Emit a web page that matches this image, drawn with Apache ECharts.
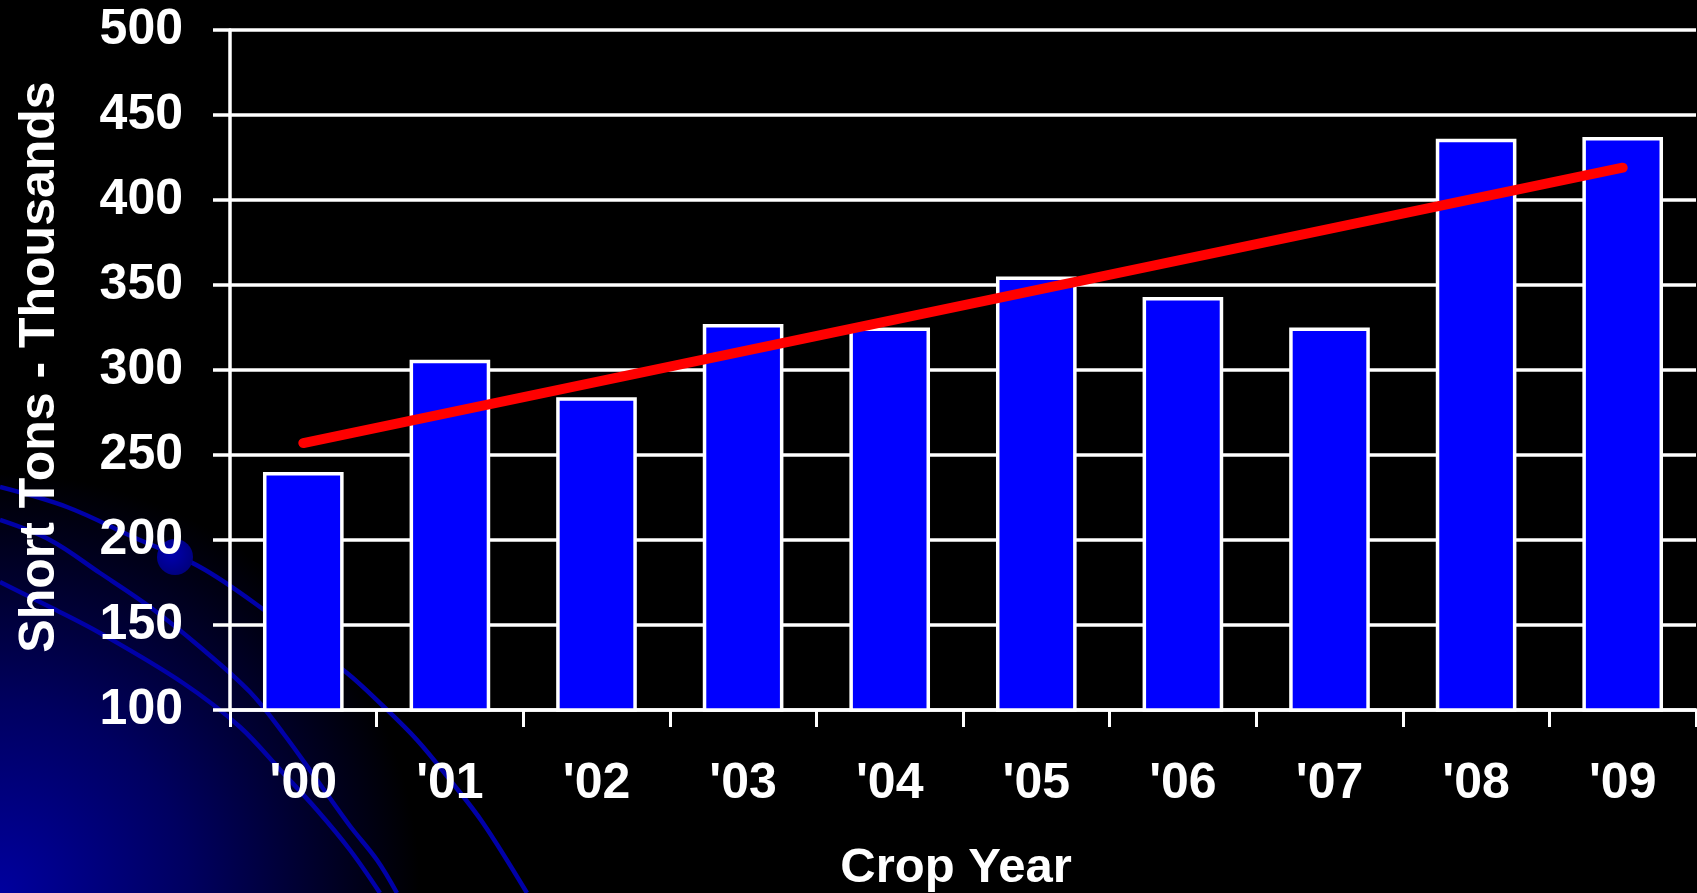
<!DOCTYPE html>
<html>
<head>
<meta charset="utf-8">
<script src="https://cdn.jsdelivr.net/npm/echarts@6/dist/echarts.min.js"></script>
<style>
html,body{margin:0;padding:0;background:#000;}
#c{width:1697px;height:893px;}
</style>
</head>
<body>
<div id="c"></div>
<script>
var categories = ["'00","'01","'02","'03","'04","'05","'06","'07","'08","'09"];
var tonnage = [240, 306, 284, 327, 325, 355, 343, 325, 436, 437];
var trend = [257, null, null, null, null, null, null, null, null, 419];
var yTicks = [100, 150, 200, 250, 300, 350, 400, 450, 500];

var FONT = '"Liberation Sans", Arial, sans-serif';
var chart = echarts.init(document.getElementById('c'));
var curveStyle = {stroke: '#0000a8', lineWidth: 4.5, fill: null};
chart.setOption({
  backgroundColor: '#000',
  animation: false,
  graphic: [
    {type: 'rect', z: -10, silent: true, shape: {x: 0, y: 0, width: 1697, height: 893},
      style: {fill: new echarts.graphic.RadialGradient(0, 893, 420, [
        {offset: 0, color: '#00009e'}, {offset: 0.45, color: '#000060'}, {offset: 1, color: '#000000'}], true)}},
    {type: 'polyline', z: -9, silent: true, shape: {smooth: 0.35, points: [[0,487],[67,507],[133,537],[200,567],[260,607],[347,673],[383,706],[417,740],[450,780],[483,823],[527,893]]}, style: curveStyle},
    {type: 'polyline', z: -9, silent: true, shape: {smooth: 0.35, points: [[0,520],[50,540],[100,573],[150,607],[200,647],[250,692],[283,733],[317,780],[350,826],[377,860],[397,893]]}, style: curveStyle},
    {type: 'polyline', z: -9, silent: true, shape: {smooth: 0.35, points: [[0,582],[50,607],[100,633],[183,683],[240,727],[283,773],[317,810],[350,850],[380,893]]}, style: curveStyle},
    {type: 'circle', z: -8, silent: true, shape: {cx: 175, cy: 557, r: 18},
      style: {fill: new echarts.graphic.RadialGradient(0.4, 0.4, 0.7, [
        {offset: 0, color: '#0000b0'}, {offset: 1, color: '#000078'}])}}
  ],
  grid: {left: 230, right: 1, top: 30, bottom: 183, outerBoundsMode: 'none', containLabel: false},
  xAxis: {
    type: 'category',
    data: categories,
    name: 'Crop Year',
    nameLocation: 'middle',
    nameGap: 134,
    nameTextStyle: {color: '#fff', fontSize: 49, fontWeight: 'bold', fontFamily: FONT, padding: [0, 14, 0, 0]},
    axisLine: {show: true, lineStyle: {color: '#fff', width: 3.5}},
    axisTick: {show: true, alignWithLabel: false, length: 17, lineStyle: {color: '#fff', width: 3}},
    axisLabel: {color: '#fff', fontSize: 50, fontWeight: 'bold', fontFamily: FONT, margin: 49},
    splitLine: {show: false}
  },
  yAxis: {
    type: 'value',
    min: yTicks[0],
    max: yTicks[yTicks.length - 1],
    interval: 50,
    name: 'Short Tons - Thousands',
    nameLocation: 'middle',
    nameGap: 165,
    nameTextStyle: {color: '#fff', fontSize: 50, fontWeight: 'bold', fontFamily: FONT, padding: [0, 0, 0, 6]},
    axisLine: {show: true, lineStyle: {color: '#fff', width: 3.5}},
    axisTick: {show: true, length: 17, lineStyle: {color: '#fff', width: 3.5}},
    axisLabel: {color: '#fff', fontSize: 50, fontWeight: 'bold', fontFamily: FONT, margin: 47},
    splitLine: {show: true, lineStyle: {color: '#fff', width: 3.5}}
  },
  series: [
    {
      type: 'bar',
      data: tonnage,
      barWidth: '55%',
      itemStyle: {color: '#0000ff', borderColor: '#fff', borderWidth: 3.5},
      z: 2
    },
    {
      type: 'line',
      data: trend,
      connectNulls: true,
      symbol: 'none',
      lineStyle: {color: '#ff0000', width: 10, cap: 'round'},
      z: 3
    }
  ]
});
</script>
</body>
</html>
